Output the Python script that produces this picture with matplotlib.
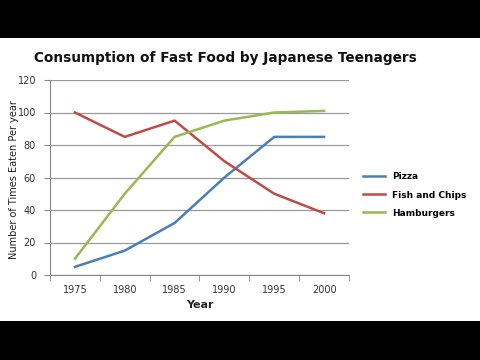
import matplotlib
matplotlib.use("Agg")
import matplotlib.pyplot as plt
from matplotlib.patches import Rectangle

years = [1975, 1980, 1985, 1990, 1995, 2000]
pizza = [5, 15, 32, 60, 85, 85]
fish_chips = [100, 85, 95, 70, 50, 38]
hamburgers = [10, 50, 85, 95, 100, 101]
series_names = ["Pizza", "Fish and Chips", "Hamburgers"]
colors = ["#4A7EBB", "#BE4B48", "#98B954"]

fig = plt.figure(figsize=(4.8, 3.6), dpi=100, facecolor="white")
fig.patches.append(Rectangle((0, 1 - 38 / 360), 1, 38 / 360,
                             transform=fig.transFigure, facecolor="black",
                             edgecolor="none"))
fig.patches.append(Rectangle((0, 0), 1, 39 / 360,
                             transform=fig.transFigure, facecolor="black",
                             edgecolor="none"))
ax = fig.add_axes([50 / 480, 1 - 275 / 360, 299 / 480, 195 / 360])
ax.set_facecolor("white")

x = list(range(len(years)))
for vals, name, c in zip([pizza, fish_chips, hamburgers], series_names, colors):
    ax.plot(x, vals, color=c, lw=1.8, label=name, solid_joinstyle="miter")

ax.set_xlim(-0.5, len(years) - 0.5)
ax.set_ylim(0, 120)
ax.set_yticks(range(0, 121, 20))
ax.set_xticks(x)
ax.set_xticklabels([str(y) for y in years])
ax.set_xticks([i + 0.5 for i in range(-1, len(years))], minor=True)
ax.tick_params(axis="x", which="major", length=0, labelsize=7, colors="#333333", pad=7)
ax.tick_params(axis="x", which="minor", length=4, color="#888888", direction="out")
ax.tick_params(axis="y", length=4, color="#888888", labelsize=7, labelcolor="#333333", pad=6)
ax.grid(axis="y", color="#999999", lw=0.9)
ax.set_axisbelow(True)
for s in ["top", "right"]:
    ax.spines[s].set_visible(False)
for s in ["left", "bottom"]:
    ax.spines[s].set_color("#888888")

ax.set_xlabel("Year", fontsize=8, fontweight="bold", color="#222222", labelpad=4)
ax.set_ylabel("Number of Times Eaten Per year", fontsize=7, color="#222222")
ax.yaxis.set_label_coords(19 / 480, 1 - 180 / 360, transform=fig.transFigure)

fig.text(225 / 480, 1 - 58 / 360, "Consumption of Fast Food by Japanese Teenagers",
         ha="center", va="center", fontsize=9.8, fontweight="bold", color="#111111")

ax.legend(loc="center left", bbox_to_anchor=(355 / 480, 1 - 195 / 360),
          bbox_transform=fig.transFigure, frameon=False,
          handlelength=2.4, labelspacing=1.0, prop={"weight": "bold", "size": 6.5})

fig.savefig("out.png", dpi=100, facecolor=fig.get_facecolor())
